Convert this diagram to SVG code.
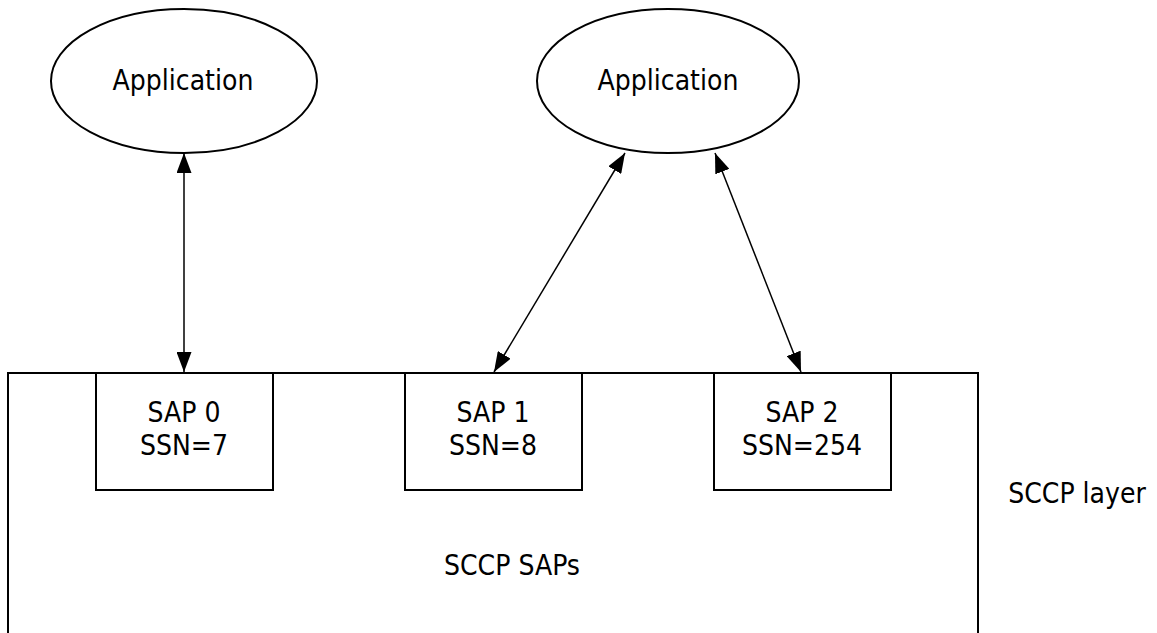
<svg xmlns="http://www.w3.org/2000/svg" width="1157" height="633" viewBox="0 0 1157 633">
  <style>
    .shape { fill: #ffffff; stroke: #000000; stroke-width: 2; }
    .label { font-family: "DejaVu Sans Condensed", "DejaVu Sans", sans-serif; font-size: 28px; fill: #000000; text-anchor: middle; }
    .link { stroke: #000000; stroke-width: 1.5; fill: none; marker-start: url(#head); marker-end: url(#head); }
  </style>
  <defs>
    <marker id="head" viewBox="0 0 20 15" refX="20" refY="7.5" markerWidth="20" markerHeight="15" markerUnits="userSpaceOnUse" orient="auto-start-reverse">
      <path d="M0,0 L20,7.5 L0,15 Z" fill="#000000"/>
    </marker>
  </defs>
  <rect width="1157" height="633" fill="#ffffff"/>

  <g id="sccp-layer">
    <path class="shape" d="M8,640 L8,373 L978,373 L978,640"/>
    <text class="label" x="512" y="575">SCCP SAPs</text>
    <text class="label" x="1077" y="503">SCCP layer</text>
  </g>

  <g id="sap0">
    <rect class="shape" x="96" y="373" width="177" height="117"/>
    <text class="label" x="184" y="422">SAP 0</text>
    <text class="label" x="184" y="455">SSN=7</text>
  </g>

  <g id="sap1">
    <rect class="shape" x="405" y="373" width="177" height="117"/>
    <text class="label" x="493" y="422">SAP 1</text>
    <text class="label" x="493" y="455">SSN=8</text>
  </g>

  <g id="sap2">
    <rect class="shape" x="714" y="373" width="177" height="117"/>
    <text class="label" x="802" y="422">SAP 2</text>
    <text class="label" x="802" y="455">SSN=254</text>
  </g>

  <g id="app-left">
    <ellipse class="shape" cx="184" cy="81" rx="133" ry="72"/>
    <text class="label" x="183" y="90">Application</text>
  </g>

  <g id="app-right">
    <ellipse class="shape" cx="668" cy="81" rx="131" ry="72"/>
    <text class="label" x="668" y="90">Application</text>
  </g>

  <g id="connectors">
    <line class="link" x1="184" y1="153" x2="184" y2="372"/>
    <line class="link" x1="625" y1="153" x2="494" y2="372"/>
    <line class="link" x1="715" y1="153" x2="801" y2="372"/>
  </g>
</svg>
